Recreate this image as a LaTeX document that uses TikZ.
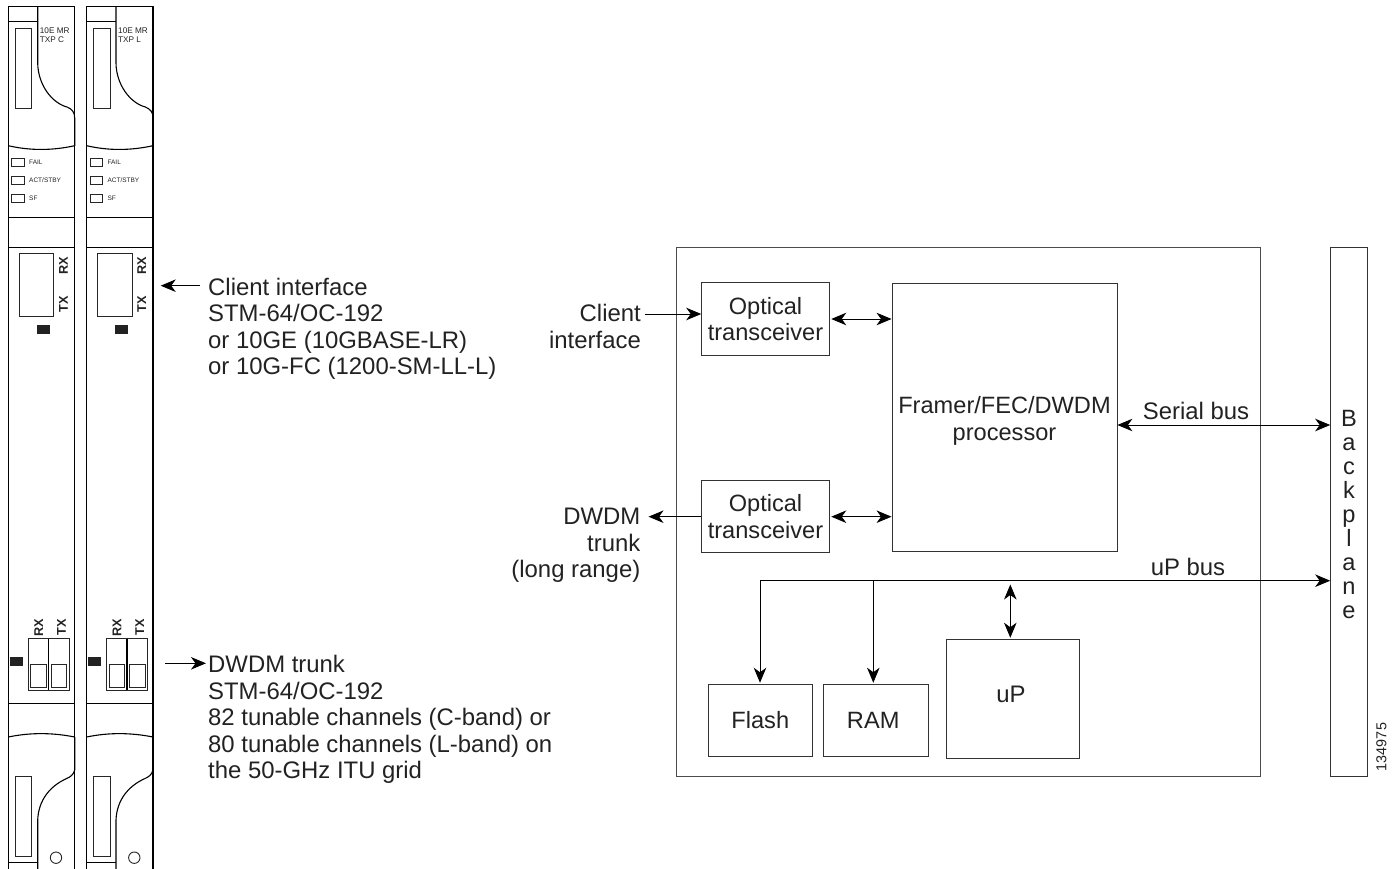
\documentclass[tikz,border=0pt]{standalone}
\usepackage{fontspec}
\setmainfont{Liberation Sans}
\usetikzlibrary{arrows.meta}
\definecolor{ink}{HTML}{222222}
\tikzset{
  x=1pt,y=-1pt,
  cardline/.style={draw=black,line width=1.1pt},
  thinbox/.style={draw=black!85,line width=0.9pt},
  box/.style={draw=black!80,line width=0.9pt,inner sep=0pt,align=center,text=ink,font=\fontsize{23.6}{26.6}\selectfont},
  lab/.style={inner sep=0pt,text=ink,font=\fontsize{23.9}{26.5}\selectfont},
  tinylab/.style={inner sep=0pt,anchor=west,text=ink,font=\fontsize{6.5}{8}\selectfont},
  smalllab/.style={inner sep=0pt,anchor=north west,align=left,text=ink,font=\fontsize{8.2}{9.7}\selectfont},
  portlab/.style={inner sep=0pt,rotate=90,text=ink,font=\bfseries\fontsize{12.7}{14}\selectfont},
  headtip/.tip={Stealth[length=15pt,width=12.5pt,inset=4.5pt]},
  conn/.style={draw=black,line width=0.9pt,-headtip},
  biconn/.style={draw=black,line width=0.9pt,headtip-headtip},
}
\newcommand{\card}[3]{%
\begin{scope}[xshift=#1pt]
 \draw[cardline] (8.3,869) -- (8.3,6.3) -- (74.7,6.3) -- (74.7,869);
 \draw[cardline] (8.3,21.7) -- (37.7,21.7);
 \draw[cardline] (37.7,6.3) -- (37.7,63) .. controls (38,85) and (52,103) .. (67,107) .. controls (72,109) and (74.7,112) .. (74.7,118) -- (74.7,146);
 \draw[cardline] (8.3,145.7) .. controls (30,150.7) and (52,150.7) .. (74.7,145.7);
 \draw[thinbox] (15,28) rectangle (31.7,108);
 \node[smalllab] (#3t) at (39.7,27.3) {10E MR\\#2};
 \foreach \yy/\tt in {158/{FAIL},176/{ACT/STBY},194/{SF}}{
   \draw[thinbox] (11.8,\yy) rectangle (24,\yy+8);
   \node[tinylab] at (29,\yy+4.2) {\tt};
 }
 \draw[cardline] (8.3,217.3) -- (74.7,217.3);
 \draw[cardline] (8.3,247.3) -- (74.7,247.3);
 \draw[thinbox] (19,253.7) rectangle (53.7,316);
 \fill[ink] (37,325) rectangle (50,334);
 \node[portlab] at (63.5,265.7) {RX};
 \node[portlab] at (63.5,304.3) {TX};
 \node[portlab] at (38.7,627.5) {RX};
 \node[portlab] at (61.5,627.5) {TX};
 \draw[thinbox] (28,638.7) rectangle (69.3,690.3);
 \draw[cardline] (48.7,638.7) -- (48.7,690.3);
 \draw[thinbox] (30.7,664) rectangle (46,687.7);
 \draw[thinbox] (51.3,664) rectangle (66.7,687.7);
 \fill[ink] (10,657) rectangle (23,666);
 \draw[cardline] (8.3,703.7) -- (74.7,703.7);
 \draw[cardline] (8.3,737) .. controls (30,732.5) and (52,732.5) .. (74.7,737);
 \draw[cardline] (74.7,737) -- (74.7,770) .. controls (73.5,775) and (70,777) .. (66.7,778.5) .. controls (50,786) and (38.5,800) .. (37.7,820) -- (37.7,869);
 \draw[thinbox] (15,776.3) rectangle (31.7,856);
 \draw[cardline] (8.3,862.3) -- (37.7,862.3);
 \draw[thinbox] (56,857.7) circle (5.7);
\end{scope}}
\begin{document}
\begin{tikzpicture}
\useasboundingbox (0,0) rectangle (1395,869);
\card{0}{TXP C}{ca}
\card{78.3}{TXP L}{cb}

% left captions
\node[lab,anchor=north west,align=left] (clientcap) at (208,277.5) {Client interface\\STM-64/OC-192\\or 10GE (10GBASE-LR)\\or 10G-FC (1200-SM-LL-L)};
\node[lab,anchor=north west,align=left] (trunkcap) at (208,655.3) {DWDM trunk\\STM-64/OC-192\\82 tunable channels (C-band) or\\80 tunable channels (L-band) on\\the 50-GHz ITU grid};
\coordinate (clientfrom) at (200,285.7);
\coordinate (clientto) at (160.7,285.7);
\coordinate (trunkfrom) at (165,663.3);
\coordinate (trunkto) at (206,663.3);
\draw[conn] (clientfrom) -- (clientto);
\draw[conn] (trunkfrom) -- (trunkto);

% block diagram
\node[draw=black!70,line width=0.9pt,minimum width=584pt,minimum height=529pt,inner sep=0pt] (outer) at (968,511.5) {};
\node[draw=black!80,line width=0.9pt,minimum width=36.3pt,minimum height=529pt,inner sep=0pt] (bp) at (1349,511.5) {};
\node[box,minimum width=127.6pt,minimum height=72.3pt] (opta) at (765.5,319) {\rule{0pt}{16pt}Optical\\transceiver};
\node[box,minimum width=127.6pt,minimum height=72pt] (optb) at (765.5,516.7) {\rule{0pt}{16pt}Optical\\transceiver};
\node[box,minimum width=225pt,minimum height=268.5pt] (framer) at (1004.5,417.2) {\rule{0pt}{25pt}Framer/FEC/DWDM\\processor};
\node[box,minimum width=104pt,minimum height=72pt] (flash) at (760.3,720.7) {\raisebox{1pt}{Flash}};
\node[box,minimum width=104.7pt,minimum height=72pt] (ram) at (875.7,720.7) {RAM\hspace{5pt}};
\node[draw=black!80,line width=0.9pt,minimum width=132.7pt,minimum height=118.6pt,inner sep=0pt] (up) at (1012.7,699) {};
\node[lab,anchor=base] (uptext) at (1011,702.2) {uP};

\node[lab,anchor=north east,align=right] (clientin) at (641,304) {Client\\interface};
\node[lab,anchor=north east,align=right] (trunkout) at (640.5,508) {DWDM\\trunk\\(long range)};
\node[lab,anchor=base] (serial) at (1196,419) {Serial bus};
\node[lab,anchor=base] (upbus) at (1188,575.5) {uP bus};
\node[inner sep=0pt,align=center,text=ink,anchor=north,font=\fontsize{23.6}{24}\selectfont] (bptext) at (1349,409.7) {B\\a\\c\\k\\p\\l\\a\\n\\e};
\node[inner sep=0pt,rotate=90,text=ink,font=\fontsize{14.4}{16}\selectfont] (num) at (1381.5,747) {134975};

\coordinate (inA) at (645,314);
\coordinate (outB) at (648.5,516.7);
\coordinate (busL) at (760,580.7);
\coordinate (busR) at (1330.2,580.7);
\coordinate (ramtap) at (873.3,580.7);
\coordinate (uptap) at (1010.3,584.5);
\coordinate (bpserial) at (1330.2,425);
\coordinate (frserial) at (1117.4,425);

\draw[conn] (inA) -- (inA -| opta.west);
\draw[conn] (optb.west) -- (outB);
\draw[biconn,shorten <=1.5pt] (opta.east) -- (framer.west |- opta.east);
\draw[biconn,shorten <=1.5pt] (optb.east) -- (framer.west |- optb.east);
\draw[biconn] (frserial) -- (bpserial);
\draw[conn] (busL) -- (busR);
\draw[conn,shorten >=1.5pt] (busL) -- (busL |- flash.north);
\draw[conn,shorten >=1.5pt] (ramtap) -- (ramtap |- ram.north);
\draw[biconn,shorten >=1.5pt] (uptap) -- (uptap |- up.north);
\end{tikzpicture}
\end{document}
